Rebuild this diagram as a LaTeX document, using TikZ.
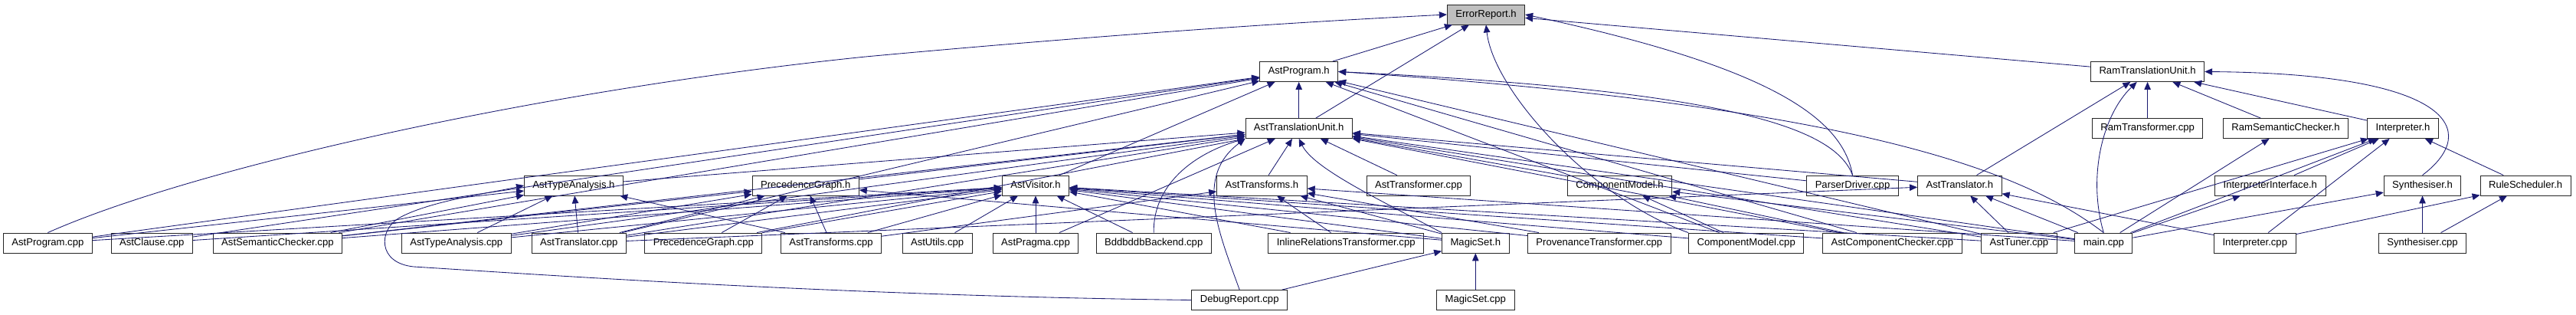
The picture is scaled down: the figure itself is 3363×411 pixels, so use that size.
\documentclass[tikz,border=0pt]{standalone}
\usepackage{fontspec}
\setmainfont{Liberation Sans}
\usetikzlibrary{arrows.meta}
\definecolor{edgeblue}{RGB}{25,25,112}
\definecolor{boxgray}{RGB}{191,191,191}
\begin{document}
\begin{tikzpicture}[x=1pt,y=-1pt,
  box/.style={draw=black!85, line width=0.9pt, rectangle, inner xsep=11pt, inner ysep=0pt,
    minimum height=26pt, text height=9.5pt, text depth=2.8pt,
    font=\fontsize{13.1}{15}\selectfont, fill=white},
  edge/.style={draw=edgeblue, line width=0.85pt, -{Triangle[length=10pt,width=8.5pt]}}]
\useasboundingbox (0,0) rectangle (3363,411);
% row 0
\node[box, fill=boxgray] (err) at (1940,19) {ErrorReport.h};
% row 1
\node[box] (ap)  at (1695.7,93.5) {AstProgram.h};
\node[box] (rtu) at (2803.6,93.5) {RamTranslationUnit.h};
% row 2
\node[box] (atu) at (1695.7,167.5) {AstTranslationUnit.h};
\node[box] (rtc) at (2803.6,167.5) {RamTransformer.cpp};
\node[box] (rsc) at (2984,167.5) {RamSemanticChecker.h};
\node[box] (ih)  at (3137,167.5) {Interpreter.h};
% row 3
\node[box] (tah) at (749,242) {AstTypeAnalysis.h};
\node[box] (pgh) at (1051.7,242) {PrecedenceGraph.h};
\node[box] (avh) at (1352,242) {AstVisitor.h};
\node[box] (trh) at (1647.4,242) {AstTransforms.h};
\node[box] (tfc) at (1851.9,242) {AstTransformer.cpp};
\node[box] (cmh) at (2114.6,242) {ComponentModel.h};
\node[box] (pdc) at (2418.5,242) {ParserDriver.cpp};
\node[box] (ath) at (2558.3,242) {AstTranslator.h};
\node[box] (iih) at (2963.8,242) {InterpreterInterface.h};
\node[box] (syh) at (3162.5,242) {Synthesiser.h};
\node[box] (rsh) at (3297.1,242) {RuleScheduler.h};
% row 4
\node[box] (apc)  at (62.4,317) {AstProgram.cpp};
\node[box] (acc)  at (198.3,317) {AstClause.cpp};
\node[box] (asc)  at (362.4,317) {AstSemanticChecker.cpp};
\node[box] (tac)  at (595.7,317) {AstTypeAnalysis.cpp};
\node[box] (atc)  at (755.8,317) {AstTranslator.cpp};
\node[box] (pgc)  at (918.3,317) {PrecedenceGraph.cpp};
\node[box] (trc)  at (1085,317) {AstTransforms.cpp};
\node[box] (auc)  at (1223.6,317) {AstUtils.cpp};
\node[box] (apr)  at (1352,317) {AstPragma.cpp};
\node[box] (bdd)  at (1506.2,317) {BddbddbBackend.cpp};
\node[box] (irt)  at (1757.2,317) {InlineRelationsTransformer.cpp};
\node[box] (msh)  at (1926.3,317) {MagicSet.h};
\node[box] (prv)  at (2087.8,317) {ProvenanceTransformer.cpp};
\node[box] (cmc)  at (2279.7,317) {ComponentModel.cpp};
\node[box] (acmp) at (2470.3,317) {AstComponentChecker.cpp};
\node[box] (tun)  at (2635.9,317) {AstTuner.cpp};
\node[box] (main) at (2746.3,317) {main.cpp};
\node[box] (ipc)  at (2943.8,317) {Interpreter.cpp};
\node[box] (syc)  at (3162.5,317) {Synthesiser.cpp};
% row 5
\node[box] (dbg) at (1618.2,391.5) {DebugReport.cpp};
\node[box] (msc) at (1926.3,391.5) {MagicSet.cpp};
% straight edges
\foreach \s/\t in {ap/err, atu/err, rtu/err,
 atu/ap, apc/ap, acc/ap, asc/ap, avh/ap, atc/ap, cmc/ap, acmp/ap, tun/ap,
 tah/atu, pgh/atu, trh/atu, tfc/atu, cmh/atu, ath/atu, apr/atu, asc/atu, tac/atu, atc/atu, pgc/atu, main/atu, tun/atu, acmp/atu, pdc/atu,
 rtc/rtu, rsc/rtu, ih/rtu, ath/rtu,
 asc/tah, tac/tah, atc/tah, trc/tah, apc/tah,
 asc/pgh, tac/pgh, atc/pgh, pgc/pgh, trc/pgh, msh/pgh,
 apc/avh, acc/avh, asc/avh, tac/avh, atc/avh, pgc/avh, trc/avh, auc/avh, apr/avh, bdd/avh, irt/avh, msh/avh, prv/avh, cmc/avh, acmp/avh, tun/avh,
 trc/trh, irt/trh, msh/trh, prv/trh, main/trh,
 cmc/cmh, acmp/cmh, main/cmh,
 atc/ath, tun/ath, main/ath, ipc/ath,
 iih/ih, ipc/ih, rsh/ih, main/ih, tun/ih,
 main/rsc, main/iih, main/syh, syc/syh, ipc/rsh, syc/rsh,
 dbg/msh, msc/msh}
 \draw[edge] (\s) -- (\t);
% curved edges
\coordinate (k1) at (1130,74);
\draw[edge] (apc.north) .. controls (250,220) and (700,118) .. (k1) .. controls (1500,40) and (1750,26) .. (err.west);
\draw[edge] (pdc.north) .. controls (2405,150) and (2300,85) .. (err.east);
\draw[edge] (pdc.north) .. controls (2395,165) and (2250,118) .. (ap.east);
\draw[edge] (main.north) .. controls (2650,230) and (2450,140) .. (ap.east);
\draw[edge] (cmc.north west) .. controls (2080,260) and (1950,120) .. (err.south);
\draw[edge] (bdd.north) .. controls (1505,240) and (1560,200) .. (atu.south west);
\draw[edge] (dbg.north) .. controls (1590,300) and (1560,230) .. (atu.south west);
\draw[edge] (msh.north west) .. controls (1800,260) and (1715,220) .. (atu.south);
\draw[edge] (main.north) .. controls (2725,230) and (2745,150) .. (rtu);
\draw[edge] (syh.north) .. controls (3240,170) and (3200,96) .. (rtu.east);
\coordinate (k2) at (540,348);
\coordinate (k3) at (520,285);
\draw[edge] (dbg.west) .. controls (1100,386) and (700,358) .. (k2) .. controls (492,343) and (495,300) .. (k3) .. controls (560,262) and (640,252) .. (tah.west);
\end{tikzpicture}
\end{document}
